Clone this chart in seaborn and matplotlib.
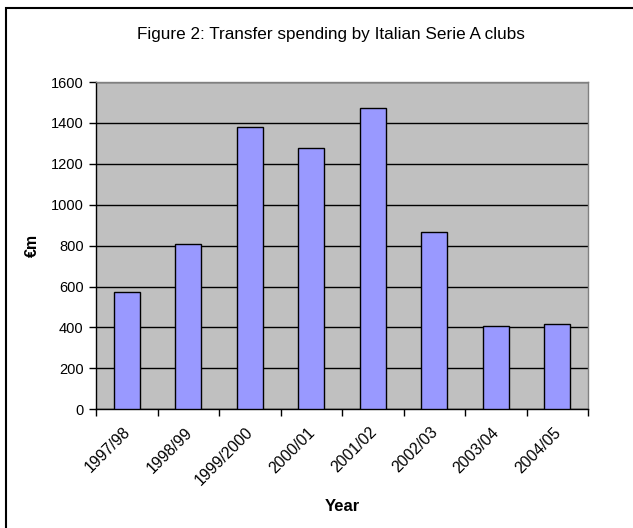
import matplotlib
matplotlib.use("Agg")
import matplotlib.pyplot as plt
import matplotlib.transforms as mtransforms
import seaborn as sns
import pandas as pd
from matplotlib.patches import Rectangle

seasons = ["1997/98", "1998/99", "1999/2000", "2000/01", "2001/02", "2002/03", "2003/04", "2004/05"]
spending = [571, 807, 1382, 1275, 1472, 868, 406, 418]
yticks = [0, 200, 400, 600, 800, 1000, 1200, 1400, 1600]

df = pd.DataFrame({"Year": seasons, "Spending": spending})

sns.set_theme(style="white")
plt.rcParams["font.family"] = ["Liberation Sans", "DejaVu Sans"]
plt.rcParams["text.color"] = "black"
plt.rcParams["axes.labelcolor"] = "black"
plt.rcParams["xtick.color"] = "black"
plt.rcParams["ytick.color"] = "black"

fig = plt.figure(figsize=(6.33, 5.28), dpi=100)
fig.patches.append(Rectangle((6/633, -0.1), 1.2, 1.1 - 8/528, transform=fig.transFigure,
                             fill=False, edgecolor="black", linewidth=1.5, zorder=0))
ax = fig.add_axes([96/633, 1 - 409.3/528, (588-96)/633, (409.3-82)/528])
ax.set_facecolor("#C0C0C0")

sns.barplot(data=df, x="Year", y="Spending", color="#9999FF", width=0.42,
            edgecolor="black", linewidth=1, saturation=1, ax=ax, zorder=3)

ax.set_ylim(0, 1600)
ax.set_xlim(-0.5, len(seasons) - 0.5)
ax.set_yticks(yticks)
ax.yaxis.grid(True, color="black", linewidth=1, zorder=1)
ax.set_axisbelow(True)
for s in ["top", "right"]:
    ax.spines[s].set_color("#808080")
    ax.spines[s].set_linewidth(1)
for s in ["left", "bottom"]:
    ax.spines[s].set_color("black")
    ax.spines[s].set_linewidth(1)

ax.set_xticks(range(len(seasons)))
ax.set_xticklabels(seasons, rotation=45, ha="right", va="top", rotation_mode="anchor", fontsize=11.3)
ax.tick_params(axis="x", length=0, pad=11)
offset = mtransforms.ScaledTranslation(-4/100, 0, fig.dpi_scale_trans)
for lab in ax.get_xticklabels():
    lab.set_transform(lab.get_transform() + offset)
ax.set_xticks([i - 0.5 for i in range(len(seasons) + 1)], minor=True)
ax.tick_params(axis="x", which="minor", length=5, width=1, color="black", direction="out", bottom=True)
ax.tick_params(axis="y", length=5, width=1, color="black", direction="out", left=True, labelsize=10.5, pad=4)

ax.set_xlabel("Year", fontsize=12, fontweight="bold", labelpad=8)
ax.set_ylabel("€m", fontsize=11.5, fontweight="bold", labelpad=8)
fig.text(331/633, 1 - 35/528, "Figure 2: Transfer spending by Italian Serie A clubs",
         ha="center", va="center", fontsize=12.3)

fig.savefig("out.png", dpi=100)
